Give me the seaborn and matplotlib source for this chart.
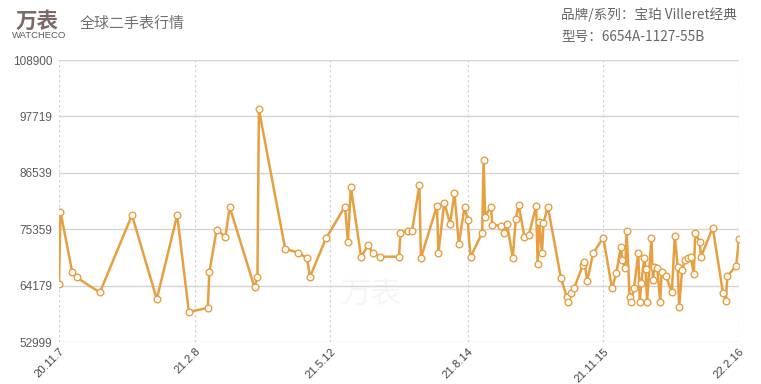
import numpy as np
import pandas as pd
import matplotlib
matplotlib.use("Agg")
import matplotlib.pyplot as plt
import seaborn as sns

# ---------------- data ----------------
start_date = "2020-11-07"
day_offsets = [0, 1, 9, 12, 28, 50, 67, 81, 89, 102, 103, 108, 114, 117, 134, 136, 137,
               155, 164, 170, 172, 183, 196, 198, 200, 207, 212, 215, 220, 233, 234, 239,
               242, 247, 248, 259, 260, 264, 268, 271, 274, 278, 280, 282, 290, 291, 292,
               296, 297, 303, 305, 307, 311, 313, 315, 319, 322, 327, 328, 329, 331, 332,
               335, 344, 348, 349, 351, 353, 359, 360, 362, 366, 373, 379, 382, 385, 386,
               388, 389, 391, 392, 394, 397, 398, 399, 401, 402, 403, 406, 407, 408, 410,
               412, 413, 416, 420, 422, 424, 425, 427, 429, 431, 433, 435, 436, 439, 440,
               448, 455, 457, 458, 464, 466]
prices = [64480, 78860, 66926, 65812, 62828, 78144, 61496, 78144, 58970, 59765, 66806,
          75220, 73887, 79735, 63823, 65812, 99088, 71441, 70705, 69591, 65931, 73569,
          79854, 72893, 83713, 69909, 72236, 70585, 69909, 69909, 74563, 75080, 75080,
          84170, 69591, 79993, 70585, 80650, 76413, 82519, 72435, 79854, 77209, 69790,
          74683, 89142, 77865, 79854, 76214, 76015, 74563, 76413, 69710, 77408, 80192,
          73768, 74225, 79993, 68457, 76871, 70705, 76552, 79854, 65613, 61953, 60959,
          62749, 63624, 68258, 68914, 65076, 70585, 73688, 63624, 66727, 71898, 69253,
          67602, 75021, 61953, 60959, 63624, 70585, 60959, 64618, 69591, 67403, 60959,
          73688, 65274, 67920, 67602, 60959, 66926, 66071, 62828, 74026, 67920, 59964,
          67264, 69253, 69591, 69790, 66469, 74563, 72893, 69909, 75677, 62749, 61158,
          66071, 68059, 73430]
y_ticks = [52999, 64179, 75359, 86539, 97719, 108900]
x_tick_dates = ["2020-11-07", "2021-02-08", "2021-05-12", "2021-08-14", "2021-11-15", "2022-02-16"]
x_tick_labels = ["20.11.7", "21.2.8", "21.5.12", "21.8.14", "21.11.15", "22.2.16"]

logo_text = "万表"
logo_sub = "WATCHECO"
title_left = "全球二手表行情"
brand_line = "品牌/系列：宝珀 Villeret经典"
model_line = "型号：6654A-1127-55B"

df = pd.DataFrame({
    "date": pd.Timestamp(start_date) + pd.to_timedelta(day_offsets, unit="D"),
    "price": prices,
})

# ---------------- style ----------------
sns.set_theme(style="white")
plt.rcParams["font.family"] = ["Noto Sans CJK SC", "DejaVu Sans"]

line_color = "#E6A042"
grid_color = "#d4d4d4"
text_color = "#5a5a5a"

fig = plt.figure(figsize=(7.61, 3.84), dpi=100)
ax = fig.add_axes([59 / 761, 1 - 342 / 384, (739 - 59) / 761, (342 - 60) / 384])

sns.lineplot(data=df, x="date", y="price", ax=ax, sort=False, estimator=None,
             color=line_color, linewidth=1.8, marker="o", markersize=4.8,
             markerfacecolor="white", markeredgecolor=line_color, markeredgewidth=1.0,
             zorder=3)

tick_dates = pd.to_datetime(x_tick_dates)
ax.set_xlim(tick_dates[0], tick_dates[-1])
ax.set_ylim(y_ticks[0], y_ticks[-1])
ax.set_yticks(y_ticks)
ax.set_yticklabels([str(v) for v in y_ticks], family=["Liberation Sans", "DejaVu Sans"],
                   fontsize=8.5, color=text_color)
ax.set_xticks(tick_dates)
ax.set_xticklabels(x_tick_labels, rotation=45, ha="right", rotation_mode="anchor",
                   family=["Liberation Sans", "DejaVu Sans"], fontsize=8.2, color="#444444")
ax.tick_params(axis="y", length=0, pad=5)
ax.tick_params(axis="x", length=0, pad=3)
ax.set_xlabel("")
ax.set_ylabel("")
for s in ax.spines.values():
    s.set_visible(False)
ax.margins(x=0)

for v in y_ticks:
    ax.axhline(v, color=grid_color, lw=1.0, zorder=1)
for d in tick_dates:
    ax.axvline(d, color=grid_color, lw=0.9, ls=(0, (2, 2)), zorder=1)

# faint watermark
ax.text(0.46, 0.17, "万表", transform=ax.transAxes, fontsize=22, color="#000000",
        alpha=0.04, ha="center", va="center", zorder=0)

# ---------------- header ----------------
fig.text(16 / 761, 1 - 21 / 384, logo_text, fontsize=15.5, color="#7d6a64", fontweight="bold",
         ha="left", va="center")
fig.text(12 / 761, 1 - 35 / 384, logo_sub, fontsize=6.8, color="#5a5a5a",
         family=["Liberation Sans", "DejaVu Sans"], ha="left", va="center")
fig.text(80 / 761, 1 - 24 / 384, title_left, fontsize=10.8, color="#707070",
         ha="left", va="center")
fig.text(561 / 761, 1 - 15 / 384, brand_line, fontsize=9.8, color="#666666",
         ha="left", va="center")
fig.text(561 / 761, 1 - 37 / 384, model_line, fontsize=9.8, color="#666666",
         ha="left", va="center")

fig.savefig("out.png", dpi=100)
